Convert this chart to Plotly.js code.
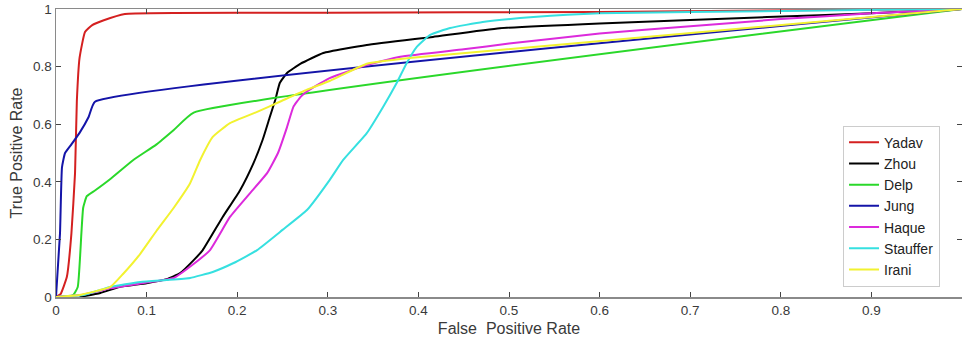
<!DOCTYPE html>
<html>
<head>
<meta charset="utf-8">
<script src="https://cdn.plot.ly/plotly-3.0.1.min.js"></script>
<style>html,body{margin:0;padding:0;background:#fff;}#chart{width:962px;height:345px;}</style>
</head>
<body>
<div id="chart"></div>
<script>
// Data
const yadavX = [0, 0.005, 0.012, 0.017, 0.021, 0.023, 0.026, 0.032, 0.04, 0.052, 0.076, 0.3, 0.6, 1];
const yadavY = [0, 0.01, 0.07, 0.22, 0.43, 0.68, 0.83, 0.92, 0.944, 0.96, 0.983, 0.987, 0.99, 1];

const zhouX = [0.026, 0.049, 0.07, 0.1, 0.122, 0.137, 0.152, 0.162, 0.184, 0.203, 0.218, 0.228, 0.236, 0.242, 0.247, 0.255, 0.27, 0.295, 0.343, 0.416, 0.49, 0.6, 0.785, 0.9, 1];
const zhouY = [0, 0.014, 0.035, 0.048, 0.062, 0.083, 0.128, 0.163, 0.278, 0.37, 0.465, 0.545, 0.625, 0.684, 0.743, 0.778, 0.81, 0.847, 0.875, 0.903, 0.933, 0.95, 0.972, 0.985, 1];

const delpX = [0, 0.019, 0.024, 0.028, 0.030, 0.034, 0.043, 0.06, 0.085, 0.111, 0.13, 0.152, 1];
const delpY = [0, 0.007, 0.035, 0.22, 0.31, 0.35, 0.37, 0.41, 0.475, 0.53, 0.58, 0.64, 1];

const jungX = [0, 0.0044, 0.0066, 0.01, 0.017, 0.026, 0.036, 0.043, 1];
const jungY = [0, 0.22, 0.45, 0.50, 0.53, 0.57, 0.625, 0.678, 1];

const haqueX = [0, 0.03, 0.06, 0.1, 0.13, 0.15, 0.17, 0.192, 0.214, 0.233, 0.245, 0.255, 0.262, 0.27, 0.28, 0.302, 0.343, 0.38, 0.45, 0.5, 0.6, 0.7, 0.8, 0.9, 1];
const haqueY = [0, 0.008, 0.03, 0.05, 0.066, 0.11, 0.163, 0.278, 0.36, 0.43, 0.5, 0.59, 0.66, 0.695, 0.72, 0.76, 0.805, 0.834, 0.86, 0.88, 0.915, 0.94, 0.965, 0.985, 1];

const staufferX = [0, 0.03, 0.06, 0.093, 0.122, 0.148, 0.173, 0.196, 0.222, 0.25, 0.277, 0.302, 0.317, 0.343, 0.361, 0.376, 0.387, 0.398, 0.413, 0.435, 0.471, 0.527, 0.6, 0.8, 0.93, 1];
const staufferY = [0, 0.007, 0.035, 0.052, 0.059, 0.066, 0.087, 0.118, 0.163, 0.233, 0.302, 0.406, 0.476, 0.569, 0.66, 0.743, 0.812, 0.868, 0.91, 0.934, 0.955, 0.972, 0.985, 0.993, 0.998, 1];

const iraniX = [0, 0.026, 0.06, 0.074, 0.093, 0.111, 0.13, 0.148, 0.159, 0.173, 0.192, 0.222, 0.247, 0.277, 0.302, 0.343, 0.39, 1];
const iraniY = [0, 0.007, 0.035, 0.08, 0.15, 0.23, 0.31, 0.395, 0.475, 0.556, 0.604, 0.643, 0.678, 0.72, 0.75, 0.81, 0.83, 1];

const names = ["Yadav", "Zhou", "Delp", "Jung", "Haque", "Stauffer", "Irani"];
const colors = ["#d42020", "#000000", "#2ad82a", "#1414a8", "#dc2adc", "#36e0e0", "#f2f230"];
const xs = [yadavX, zhouX, delpX, jungX, haqueX, staufferX, iraniX];
const ys = [yadavY, zhouY, delpY, jungY, haqueY, staufferY, iraniY];

const traces = names.map((n, i) => ({
  x: xs[i], y: ys[i], name: n, type: "scatter", mode: "lines",
  line: {color: colors[i], width: 2, shape: "spline", smoothing: 0.4}
}));

const xTicks = [0, 0.1, 0.2, 0.3, 0.4, 0.5, 0.6, 0.7, 0.8, 0.9, 1];
const yTicks = [0, 0.2, 0.4, 0.6, 0.8, 1];

const layout = {
  width: 962, height: 345,
  margin: {l: 56, r: 0, t: 9, b: 48},
  paper_bgcolor: "#fff", plot_bgcolor: "#fff",
  font: {family: "Liberation Sans, Arial, sans-serif", color: "#3a3a3a", size: 13},
  showlegend: true,
  legend: {
    x: 0.8687, y: 0.595, xanchor: "left", yanchor: "top",
    bgcolor: "#fff", bordercolor: "#cccccc", borderwidth: 1,
    font: {size: 14, color: "#222"}, tracegroupgap: 0
  },
  xaxis: {
    range: [0, 1], tickvals: xTicks, ticktext: xTicks.map(String),
    showgrid: false, zeroline: false, showline: true, linecolor: "#8a8a8a", linewidth: 1.5,
    mirror: "ticks", ticks: "inside", ticklen: 5, tickcolor: "#444", tickwidth: 1,
    tickfont: {size: 13.5, color: "#3a3a3a"},
    title: {text: "False  Positive Rate", font: {size: 16, color: "#3a3a3a"}, standoff: 6}
  },
  yaxis: {
    range: [0, 1], tickvals: yTicks, ticktext: yTicks.map(String),
    showgrid: false, zeroline: false, showline: true, linecolor: "#8a8a8a", linewidth: 1.5,
    mirror: "ticks", ticks: "inside", ticklen: 5, tickcolor: "#444", tickwidth: 1,
    tickfont: {size: 13.5, color: "#3a3a3a"},
    title: {text: "True Positive Rate", font: {size: 16, color: "#3a3a3a"}, standoff: 6}
  }
};

Plotly.newPlot("chart", traces, layout, {displayModeBar: false, staticPlot: true});
</script>
</body>
</html>
